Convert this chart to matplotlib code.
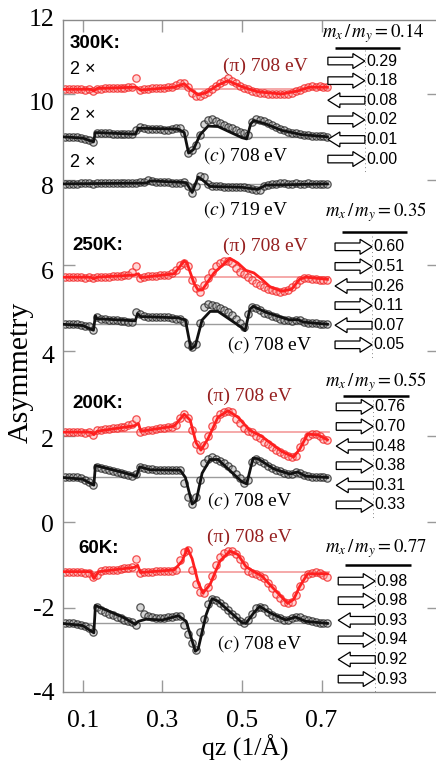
import matplotlib
matplotlib.use("Agg")
import matplotlib.pyplot as plt
from matplotlib import transforms
from matplotlib.patches import Polygon

plt.rcParams['font.family'] = ['Liberation Serif', 'DejaVu Serif']
plt.rcParams['mathtext.fontset'] = 'stix'
plt.rcParams['axes.unicode_minus'] = False
SANS = ['Liberation Sans', 'DejaVu Sans']

# ---------------- data ----------------
QZ = [0.055, 0.065, 0.075, 0.085, 0.095, 0.105, 0.115, 0.125, 0.135, 0.145,
      0.155, 0.165, 0.175, 0.185, 0.195, 0.205, 0.215, 0.225, 0.235, 0.245,
      0.255, 0.265, 0.275, 0.285, 0.295, 0.305, 0.315, 0.325, 0.335, 0.345,
      0.355, 0.365, 0.375, 0.385, 0.395, 0.405, 0.415, 0.425, 0.435, 0.445,
      0.455, 0.465, 0.475, 0.485, 0.495, 0.505, 0.515, 0.525, 0.535, 0.545,
      0.555, 0.565, 0.575, 0.585, 0.595, 0.605, 0.615, 0.625, 0.635, 0.645,
      0.655, 0.665, 0.675, 0.685, 0.695, 0.705, 0.715]

# vertical offsets of each curve
OFF_300K_PI, OFF_300K_C, OFF_300K_C719 = 10.11, 9.0, 7.9
OFF_250K_PI, OFF_250K_C = 5.72, 4.62
OFF_200K_PI, OFF_200K_C = 2.1, 1.04
OFF_60K_PI, OFF_60K_C = -1.16, -2.37

# measured asymmetry (relative to offset)
PI_300K = [0.0, 0.0, 0.01, 0.0, 0.0, -0.02, 0.0, -0.03,
           0.0, 0.01, 0.02, 0.02, 0.03, 0.03, 0.04, 0.04, 0.05, 0.05,
           0.26, -0.02,
           0.0, 0.01, 0.02, 0.02, 0.03, 0.04, 0.05, 0.06,
           0.1, 0.14, 0.15, 0.05, -0.08, -0.15, -0.16, -0.12, -0.06, 0.0,
           0.08, 0.14, 0.2, 0.26, 0.2, 0.14, 0.08, 0.04, 0.0, -0.04, -0.06,
           -0.08, -0.08, -0.1, -0.1, -0.11, -0.1, -0.11, -0.1, -0.08, -0.05,
           -0.02, 0.02, 0.05, 0.07, 0.06, 0.07, 0.05, 0.06]
C_300K = [0.0, 0.0, 0.0, 0.0, -0.02, -0.05, -0.08, -0.13,
          0.1, 0.09, 0.08, 0.08, 0.07, 0.07, 0.07, 0.06, 0.06, 0.06,
          0.15,
          0.22, 0.2, 0.19, 0.18, 0.18, 0.18, 0.17, 0.17, 0.18, 0.2,
          0.2, 0.08, -0.37, -0.3, -0.19,
          0.05, 0.3, 0.4, 0.42, 0.38, 0.33, 0.28, 0.24, 0.2, 0.16, 0.12, 0.08,
          0.05,
          0.35, 0.42, 0.4, 0.36, 0.32, 0.27, 0.22, 0.18, 0.15, 0.12, 0.1, 0.08,
          0.06, 0.05, 0.04, 0.03, 0.02, 0.02, 0.01, 0.0]
C719_300K = [0.0, 0.0, 0.0, 0.0, 0.01, 0.02, 0.02, 0.0,
             0.03, 0.03, 0.02, 0.02, 0.02, 0.02, 0.01, 0.02, 0.02, 0.02, 0.02,
             0.04,
             0.05, 0.09, 0.06, 0.05, 0.04, 0.04, 0.04, 0.03, 0.03, 0.03, 0.04,
             -0.05, -0.22, -0.05, 0.19, 0.17, 0.0, -0.05,
             -0.06, -0.06, -0.07, -0.07, -0.07, -0.07, -0.08, -0.08, -0.09,
             -0.11, -0.15, -0.14, -0.06, -0.02, 0.0,
             0.0, 0.01, 0.01, 0.0, 0.0, 0.01, 0.0, 0.0, 0.01, 0.0, 0.0, 0.0,
             0.0, 0.0]
PI_250K = [0.0, 0.0, 0.01, 0.0, 0.0, -0.01, 0.0, -0.03,
           0.0, 0.0, 0.01, 0.01, 0.02, 0.02, 0.03, 0.04, 0.06, 0.12,
           0.26, -0.02,
           0.0, 0.02, 0.02, 0.03, 0.04, 0.05, 0.06, 0.09,
           0.17, 0.29, 0.34, 0.25, -0.06, -0.26, -0.34, -0.18, -0.02, 0.13,
           0.25, 0.33, 0.37, 0.38, 0.33, 0.21, 0.13, 0.08, 0.0, -0.06, -0.14,
           -0.18, -0.23, -0.28, -0.31, -0.33, -0.34, -0.33, -0.3, -0.23, -0.16,
           -0.06, -0.02,
           -0.03, -0.05, -0.05, -0.06, -0.06, -0.06]
C_250K = [0.0, 0.0, 0.0, 0.0, -0.02, -0.04, -0.05, -0.14,
          0.17,
          0.13, 0.12, 0.11, 0.09, 0.09, 0.08, 0.08, 0.06, 0.05,
          0.29, 0.25,
          0.19, 0.17, 0.16, 0.16, 0.16, 0.16, 0.16, 0.14, 0.13, 0.13, 0.05,
          -0.45, -0.53, -0.45, 0.02, 0.4, 0.48, 0.44, 0.42, 0.37, 0.33, 0.29,
          0.21, 0.13, 0.02, -0.06,
          0.25, 0.4, 0.39, 0.33, 0.26, 0.23, 0.19, 0.16, 0.13, 0.11, 0.09,
          0.08, 0.09, 0.11, 0.05,
          0.03, 0.02, 0.02, 0.0, 0.0, 0.0]
PI_200K = [0.0, 0.0, 0.0, 0.0, 0.0, -0.02, 0.0, -0.06,
           0.04, 0.05, 0.07, 0.08, 0.09, 0.1, 0.12, 0.13, 0.16, 0.19,
           0.31, 0.0,
           0.02, 0.04, 0.05, 0.07, 0.09, 0.1, 0.12, 0.13,
           0.17, 0.33, 0.42, 0.33, 0.05, -0.28, -0.42, -0.3, -0.1, 0.15,
           0.3, 0.42, 0.47, 0.49, 0.46, 0.3, 0.22, 0.1, 0.03, 0.0,
           -0.08, -0.13, -0.22, -0.28, -0.34, -0.41, -0.46, -0.5, -0.55,
           -0.57, -0.56,
           -0.35, -0.2, -0.1, -0.05, -0.05, -0.1, -0.16, -0.19]
C_200K = [0.0, 0.0, 0.0, 0.0, -0.02, -0.05, -0.1, -0.18,
          0.25,
          0.21, 0.19, 0.17, 0.16, 0.13, 0.11, 0.09, 0.05, 0.03,
          0.09, 0.25,
          0.21, 0.19, 0.19, 0.17, 0.17, 0.17, 0.17, 0.17, 0.17, 0.17,
          -0.12, -0.45, -0.61, -0.45, -0.06,
          0.33, 0.44, 0.47, 0.44, 0.39, 0.33, 0.26, 0.19, 0.09, -0.02, -0.14,
          -0.06,
          0.37, 0.44, 0.39, 0.33, 0.26, 0.22, 0.17, 0.14, 0.11, 0.09, 0.09,
          0.13, 0.11, 0.05,
          0.03, 0.02, 0.02, 0.0, 0.0, -0.02]
PI_60K = [0.0, 0.0, 0.0, 0.0, 0.0, -0.02, -0.02, -0.13,
          -0.08,
          0.02, 0.04, 0.04, 0.05, 0.05, 0.07, 0.08, 0.09, 0.1,
          0.29, -0.04,
          0.0, 0.0, 0.0, 0.01, 0.01, 0.02, 0.02, 0.02,
          0.05, 0.27, 0.45, 0.5, 0.05, -0.3, -0.47, -0.5, -0.35, -0.1, 0.15,
          0.35, 0.44, 0.48, 0.49, 0.42, 0.3,
          0.16, 0.02, -0.02, -0.05, -0.1,
          -0.16, -0.27, -0.39, -0.52, -0.62, -0.7, -0.74, -0.7, -0.55, -0.33,
          -0.16, -0.05,
          -0.02, 0.0, -0.04, -0.08, -0.12]
C_60K = [0.0, 0.0, 0.0, -0.02, -0.04, -0.07, -0.1, -0.2,
         0.39,
         0.31, 0.27, 0.23, 0.19, 0.16, 0.12, 0.09, 0.06, 0.03,
         -0.04, 0.39, 0.22,
         0.17, 0.14, 0.12, 0.12, 0.12, 0.14, 0.16, 0.17, 0.17,
         -0.04, -0.25, -0.45, -0.62, -0.2, 0.1, 0.45, 0.58, 0.55, 0.48, 0.4,
         0.31, 0.23, 0.16, 0.06, 0.0,
         0.08, 0.22, 0.35, 0.39, 0.35, 0.27, 0.19, 0.16, 0.12, 0.09, 0.08,
         0.12, 0.16, 0.14, 0.11,
         0.08, 0.06, 0.04, 0.02, 0.0, 0.0]

# model fits (relative to offset)
FIT_PI_300K_Q = [0.05, 0.12, 0.128, 0.136, 0.235, 0.245, 0.33, 0.355, 0.37, 0.39,
                 0.41, 0.44, 0.465, 0.50, 0.54, 0.60, 0.64, 0.67, 0.715]
FIT_PI_300K = [0.0, 0.0, -0.04, 0.02, 0.05, -0.02, 0.05, 0.13, 0.0, -0.13,
               -0.08, 0.10, 0.20, 0.06, -0.06, -0.11, -0.04, 0.05, 0.05]
FIT_C_300K_Q = [0.05, 0.10, 0.127, 0.132, 0.232, 0.24, 0.34, 0.355, 0.366, 0.378,
                0.395, 0.415, 0.44, 0.50, 0.512, 0.522, 0.53, 0.56, 0.60, 0.65,
                0.715]
FIT_C_300K = [0.0, -0.03, -0.12, 0.10, 0.06, 0.20, 0.18, 0.10, -0.38, -0.30,
              0.05, 0.25, 0.24, -0.02, -0.05, 0.30, 0.38, 0.30, 0.15, 0.05, 0.0]
FIT_C719_300K_Q = [0.05, 0.26, 0.27, 0.36, 0.375, 0.39, 0.40, 0.42, 0.50, 0.54,
                   0.56, 0.715]
FIT_C719_300K = [0.0, 0.02, 0.07, 0.03, -0.20, 0.16, 0.10, -0.06, -0.08, -0.13,
                 -0.03, 0.0]
FIT_PI_250K_Q = [0.05, 0.12, 0.128, 0.136, 0.23, 0.24, 0.245, 0.33, 0.355, 0.362,
                 0.38, 0.39, 0.40, 0.43, 0.47, 0.49, 0.51, 0.53, 0.55, 0.57,
                 0.60, 0.625, 0.645, 0.66, 0.715]
FIT_PI_250K = [0.0, 0.0, -0.04, 0.0, 0.05, 0.08, -0.01, 0.08, 0.38, 0.33,
               -0.15, -0.30, -0.30, 0.10, 0.44, 0.33, 0.16, 0.10, -0.05, -0.22,
               -0.33, -0.28, -0.05, 0.0, -0.05]
FIT_C_250K_Q = [0.05, 0.10, 0.127, 0.132, 0.136, 0.232, 0.238, 0.245, 0.34, 0.358,
                0.372, 0.383, 0.40, 0.42, 0.44, 0.50, 0.508, 0.52, 0.528, 0.56,
                0.62, 0.64, 0.655, 0.715]
FIT_C_250K = [0.0, -0.03, -0.14, 0.20, 0.13, 0.08, 0.25, 0.18, 0.15, 0.10,
              -0.58, -0.50, 0.10, 0.30, 0.30, -0.08, -0.15, 0.35, 0.42, 0.28,
              0.10, 0.11, 0.05, 0.0]
FIT_PI_200K_Q = [0.05, 0.12, 0.128, 0.136, 0.23, 0.24, 0.246, 0.33, 0.355, 0.37,
                 0.385, 0.397, 0.415, 0.44, 0.465, 0.49, 0.52, 0.55, 0.60, 0.63,
                 0.645, 0.665, 0.69, 0.715]
FIT_PI_200K = [0.0, 0.0, -0.06, 0.02, 0.15, 0.20, 0.02, 0.14, 0.42, 0.28,
               -0.25, -0.42, -0.15, 0.35, 0.50, 0.35, 0.04, -0.10, -0.45, -0.58,
               -0.40, -0.05, -0.06, -0.18]
FIT_C_200K_Q = [0.05, 0.10, 0.128, 0.132, 0.20, 0.235, 0.243, 0.27, 0.345, 0.358,
                0.375, 0.385, 0.40, 0.42, 0.44, 0.50, 0.512, 0.528, 0.54, 0.58,
                0.62, 0.64, 0.66, 0.715]
FIT_C_200K = [0.0, -0.04, -0.18, 0.28, 0.12, 0.03, 0.25, 0.18, 0.17, 0.0,
              -0.62, -0.55, 0.10, 0.42, 0.42, -0.10, -0.15, 0.45, 0.44, 0.20,
              0.08, 0.13, 0.03, 0.0]
FIT_PI_60K_Q = [0.05, 0.12, 0.128, 0.14, 0.23, 0.238, 0.245, 0.33, 0.35, 0.363,
                0.375, 0.39, 0.402, 0.42, 0.445, 0.47, 0.49, 0.51, 0.53, 0.55,
                0.58, 0.615, 0.63, 0.645, 0.665, 0.715]
FIT_PI_60K = [0.0, 0.0, -0.16, 0.0, 0.10, 0.15, -0.02, 0.04, 0.25, 0.55,
              0.30, -0.25, -0.50, -0.30, 0.25, 0.48, 0.40, 0.12, 0.0, -0.10,
              -0.40, -0.74, -0.65, -0.35, -0.05, -0.05]
FIT_C_60K_Q = [0.05, 0.10, 0.128, 0.132, 0.20, 0.232, 0.24, 0.26, 0.30, 0.34,
               0.36, 0.383, 0.39, 0.41, 0.425, 0.44, 0.50, 0.51, 0.53, 0.545,
               0.57, 0.61, 0.635, 0.66, 0.715]
FIT_C_60K = [0.0, -0.05, -0.22, 0.42, 0.15, -0.02, 0.05, 0.10, 0.08, 0.18,
             0.05, -0.65, -0.60, 0.20, 0.58, 0.52, 0.02, 0.0, 0.25, 0.40,
             0.25, 0.08, 0.15, 0.05, 0.0]

# magnetic-moment ratio tables
RATIOS = ["0.14", "0.35", "0.55", "0.77"]
MOMENTS_300K = [0.29, 0.18, 0.08, 0.02, 0.01, 0.00]
MOMENTS_250K = [0.60, 0.51, 0.26, 0.11, 0.07, 0.05]
MOMENTS_200K = [0.76, 0.70, 0.48, 0.38, 0.31, 0.33]
MOMENTS_60K = [0.98, 0.98, 0.93, 0.94, 0.92, 0.93]
ARROW_DIR = [1, 1, -1, 1, -1, 1]

# ---------------- figure ----------------
W, H = 436, 763
fig = plt.figure(figsize=(W / 100, H / 100), dpi=100)
ax = fig.add_axes([62.5 / W, 71 / H, (439 - 62.5) / W, 672 / H])
ax.set_xlim(0.04925, 0.9952)
ax.set_ylim(-3.972, 11.729)

RED = dict(line='#ff1f1f', mec=(0.95, 0.15, 0.15, 0.8), mfc=(1.0, 0.6, 0.6, 0.4),
           base='#f5a3a3', blw=1.3)
BLK = dict(line='#111111', mec=(0.12, 0.12, 0.12, 0.75), mfc=(0.6, 0.6, 0.6, 0.4),
           base='#9c9c9c', blw=1.0)

series = [
    (OFF_300K_PI, PI_300K, FIT_PI_300K_Q, FIT_PI_300K, RED),
    (OFF_300K_C, C_300K, FIT_C_300K_Q, FIT_C_300K, BLK),
    (OFF_300K_C719, C719_300K, FIT_C719_300K_Q, FIT_C719_300K, BLK),
    (OFF_250K_PI, PI_250K, FIT_PI_250K_Q, FIT_PI_250K, RED),
    (OFF_250K_C, C_250K, FIT_C_250K_Q, FIT_C_250K, BLK),
    (OFF_200K_PI, PI_200K, FIT_PI_200K_Q, FIT_PI_200K, RED),
    (OFF_200K_C, C_200K, FIT_C_200K_Q, FIT_C_200K, BLK),
    (OFF_60K_PI, PI_60K, FIT_PI_60K_Q, FIT_PI_60K, RED),
    (OFF_60K_C, C_60K, FIT_C_60K_Q, FIT_C_60K, BLK),
]

for off, pts, fq, fv, st in series:
    ax.plot([0.05, 0.72], [off, off], color=st['base'], lw=st['blw'], zorder=1)
    ax.plot(QZ, [off + v for v in pts], ls='none', marker='o', ms=5.3, mew=0.9,
            mec=st['mec'], mfc=st['mfc'], zorder=2)
    ax.plot(fq, [off + v for v in fv], color=st['line'], lw=2.0, zorder=3,
            solid_joinstyle='round')

# axes styling
for side in ('left', 'top', 'bottom'):
    ax.spines[side].set_color('#8a8a8a')
    ax.spines[side].set_linewidth(1.0)
ax.spines['right'].set_visible(False)
ax.set_xticks([0.1, 0.3, 0.5, 0.7])
ax.set_xticklabels(['0.1', '0.3', '0.5', '0.7'])
ax.set_yticks([-2, 0, 2, 4, 6, 8, 10])
ax.tick_params(axis='both', direction='in', length=8.5, width=1.0, color='#9a9a9a',
               top=True, right=True, labelleft=False, labelsize=18.5, pad=13)

# y tick labels on their own evenly spaced scale
lab = fig.add_axes([62.5 / W, 71 / H, 0.0001, 675 / H])
lab.set_ylim(-4, 12)
lab.set_yticks([-4, -2, 0, 2, 4, 6, 8, 10, 12])
lab.set_xticks([])
lab.tick_params(axis='y', length=0, pad=6, labelsize=18.5)
for s in lab.spines.values():
    s.set_visible(False)
lab.patch.set_visible(False)

fig.text(21 / W, 1 - 372 / H, 'Asymmetry', rotation=90, ha='center', va='center',
         fontsize=21.5)
fig.text(245 / W, 1 - 748 / H, 'qz (1/Å)', ha='center', va='center', fontsize=18.5)

# temperature and scale labels
for txt, x, y in [('300K:', 0.068, 11.17), ('250K:', 0.073, 6.47),
                  ('200K:', 0.073, 2.76), ('60K:', 0.088, -0.61)]:
    ax.text(x, y, txt, family=SANS, fontweight='bold', fontsize=13.5,
            ha='left', va='center')
for y in (10.58, 9.49, 8.41):
    ax.text(0.068, y, '2 ×', family=SANS, fontsize=13, ha='left', va='center')

# energy labels
PI_COLOR = '#962020'
for x, y in [(0.453, 10.65), (0.453, 6.45), (0.412, 2.94), (0.412, -0.35)]:
    ax.text(x, y, '(π) 708 eV', color=PI_COLOR, fontsize=14, ha='left', va='center')
for x, y, e in [(0.403, 8.57, '708'), (0.403, 7.29, '719'), (0.463, 4.14, '708'),
                (0.412, 0.51, '708'), (0.438, -2.83, '708')]:
    ax.text(x, y, r'$(c)$ ' + e + ' eV', fontsize=14, ha='left', va='center')

# moment tables with block arrows
def block_arrow(x, y, direction):
    L, hs, bh, hh = 37.0, 25.0, 3.8, 7.5
    if direction > 0:
        verts = [(0, -bh), (hs, -bh), (hs, -hh), (L, 0), (hs, hh), (hs, bh), (0, bh)]
    else:
        verts = [(L, -bh), (L - hs, -bh), (L - hs, -hh), (0, 0), (L - hs, hh),
                 (L - hs, bh), (L, bh)]
    tr = (transforms.Affine2D().scale(1 / 100.0) + fig.dpi_scale_trans
          + transforms.ScaledTranslation(x, y, ax.transData))
    poly = Polygon(verts, closed=True, facecolor='white', edgecolor='black',
                   lw=0.9, transform=tr, clip_on=False, zorder=5)
    ax.add_artist(poly)

groups = [
    (RATIOS[0], MOMENTS_300K, 0.702, 11.43, 11.07, 10.77, 0.716),
    (RATIOS[1], MOMENTS_250K, 0.708, 7.24, 6.78, 6.43, 0.734),
    (RATIOS[2], MOMENTS_200K, 0.708, 3.27, 2.94, 2.69, 0.737),
    (RATIOS[3], MOMENTS_60K, 0.708, -0.61, -1.0, -1.38, 0.742),
]
ROW = 0.458
for ratio, moms, tx, ty, ry, y0, ax0 in groups:
    ax.text(tx, ty, r'$m_x\,/\,m_y=' + ratio + '$', fontsize=13.5, ha='left',
            va='center')
    ax.plot([ax0 + 0.018, ax0 + 0.182], [ry, ry], color='black', lw=1.8,
            solid_capstyle='butt', clip_on=False, zorder=5)
    tip = ax0 + 37.0 / 398
    ax.plot([tip, tip], [y0 + 0.25, y0 - 5 * ROW - 0.3], color='#888888', lw=0.7,
            ls=(0, (1, 3)), zorder=4)
    for k, (m, d) in enumerate(zip(moms, ARROW_DIR)):
        y = y0 - k * ROW
        block_arrow(ax0, y, d)
        ax.annotate(f'{m:.2f}', xy=(ax0, y), xytext=(38.5 * 0.72, 0),
                    textcoords='offset points', family=SANS, fontsize=11.5,
                    ha='left', va='center', zorder=6)

fig.savefig('out.png', dpi=100)
